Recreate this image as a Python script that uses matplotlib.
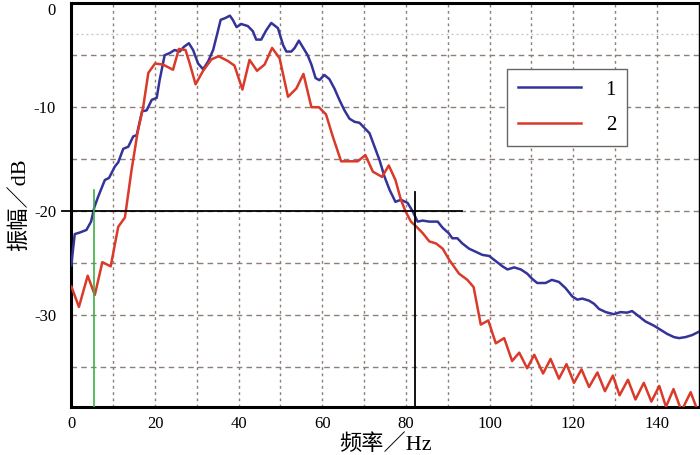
import matplotlib
matplotlib.use('Agg')
import matplotlib.pyplot as plt

plt.rcParams['font.family'] = ['Liberation Serif', 'Noto Sans CJK SC']

# curve 1 (blue): frequency (Hz) / amplitude (dB)
freq_1 = [0.0, 0.3, 0.8, 2.0, 3.6, 4.7, 5.5, 6.4, 8.0, 9.0, 10.4, 11.2, 12.4, 13.6, 14.8, 15.6,
          16.9, 18.0, 19.2, 20.4, 21.1, 22.3, 23.5, 24.7, 25.9, 26.9, 28.1, 29.1, 30.3, 31.5,
          32.7, 33.9, 34.9, 35.7, 36.7, 37.9, 38.6, 39.5, 40.6, 42.2, 43.4, 44.2, 45.4, 46.6,
          47.8, 49.4, 50.6, 51.4, 52.6, 53.4, 54.4, 55.3, 56.5, 57.4, 58.4, 59.3, 60.5, 61.7,
          62.9, 64.1, 65.3, 66.5, 67.7, 68.9, 70.1, 71.3, 72.5, 73.7, 74.9, 76.1, 77.5, 78.8,
          80.4, 81.6, 82.8, 84.0, 85.6, 87.6, 88.8, 90.2, 91.1, 92.3, 93.5, 95.1, 96.7, 98.3,
          99.9, 101.5, 103.1, 104.3, 105.9, 107.5, 109.0, 110.2, 111.4, 113.4, 114.9, 116.6,
          118.2, 119.8, 121.0, 122.2, 123.8, 125.0, 126.2, 127.8, 129.7, 131.3, 132.9, 134.1,
          135.7, 137.3, 139.3, 140.9, 142.5, 144.1, 145.3, 146.9, 148.5, 150.0]
amp_1 = [-25.2, -24.0, -22.2, -22.05, -21.8, -21.0, -19.6, -18.6, -17.0, -16.8, -15.7, -15.3,
         -14.0, -13.8, -12.8, -12.7, -10.4, -10.3, -9.3, -9.1, -7.4, -5.0, -4.8, -4.5, -4.65,
         -4.2, -3.85, -4.5, -5.8, -6.35, -5.6, -4.5, -2.9, -1.6, -1.45, -1.2, -1.6, -2.3, -2.0,
         -2.2, -2.7, -3.5, -3.5, -2.6, -1.9, -2.4, -4.0, -4.65, -4.65, -4.3, -3.6, -4.2, -5.0,
         -5.9, -7.2, -7.4, -6.9, -7.3, -8.2, -9.3, -10.3, -11.1, -11.4, -11.5, -12.0, -12.5,
         -13.8, -15.1, -16.7, -17.95, -19.1, -18.9, -19.2, -20.0, -21.0, -20.9, -21.0, -21.0,
         -21.6, -22.1, -22.6, -22.6, -23.1, -23.6, -23.9, -24.2, -24.3, -24.8, -25.3, -25.6,
         -25.4, -25.6, -26.0, -26.5, -26.9, -26.9, -26.6, -26.8, -27.4, -28.2, -28.5, -28.4,
         -28.6, -28.9, -29.4, -29.7, -29.9, -29.7, -29.75, -29.6, -30.1, -30.6, -31.0, -31.4,
         -31.8, -32.1, -32.2, -32.1, -31.9, -31.6]

# curve 2 (red)
freq_2 = [0.0, 1.8, 3.9, 5.6, 7.4, 9.4, 11.2, 12.8, 14.4, 15.8, 17.2, 18.4, 20.0, 21.9, 24.3,
          25.7, 27.3, 28.3, 29.7, 31.5, 33.5, 35.2, 37.4, 39.0, 40.9, 42.6, 44.4, 46.2, 48.0,
          49.8, 51.8, 53.8, 55.5, 57.4, 59.2, 60.9, 62.5, 64.5, 66.1, 68.5, 70.3, 72.1, 74.3,
          75.9, 77.5, 78.8, 79.9, 81.2, 82.8, 84.0, 85.6, 87.2, 88.8, 90.4, 92.7, 94.7, 96.2,
          97.9, 99.7, 101.5, 103.5, 105.4, 107.1, 109.0, 110.7, 112.8, 114.6, 116.6, 118.4,
          120.2, 122.0, 123.8, 125.8, 127.6, 129.5, 131.1, 133.1, 134.9, 136.9, 138.7, 140.6,
          142.2, 144.0, 145.9, 148.1, 149.6]
amp_2 = [-27.25, -29.2, -26.2, -28.05, -24.9, -25.3, -21.5, -20.6, -16.0, -12.5, -9.9, -6.7,
         -5.8, -5.9, -6.4, -4.4, -4.5, -5.8, -7.8, -6.5, -5.4, -5.1, -5.55, -6.0, -8.3, -5.45,
         -6.5, -5.9, -4.3, -5.3, -9.0, -8.2, -6.8, -10.0, -10.0, -10.7, -12.8, -15.2, -15.2,
         -15.2, -14.6, -16.2, -16.7, -15.6, -17.0, -18.9, -20.0, -21.0, -21.6, -22.1, -22.9,
         -23.1, -23.6, -24.7, -26.0, -26.6, -27.3, -30.9, -30.5, -32.7, -32.2, -34.4, -33.6,
         -35.1, -33.8, -35.6, -34.2, -36.1, -34.7, -36.5, -35.2, -36.9, -35.5, -37.3, -35.8,
         -37.7, -36.2, -38.1, -36.5, -38.3, -36.8, -38.8, -37.1, -39.2, -37.4, -39.0]

series_labels = ['1', '2']
x_ticks = [0, 20, 40, 60, 80, 100, 120, 140]
y_ticks = [0, -10, -20, -30]
y_tick_labels = ['0', '-10', '-20', '-30']

# -20 dB reference and the two marked frequencies
ref_level = -20
ref_end = 93.4
f_low, f_low_top = 5.3, -18.0
f_high, f_high_top = 82.2, -18.2

fig = plt.figure(figsize=(7, 4.55), dpi=100)
ax = fig.add_axes([0.102, 0.106, 0.896, 0.887])

ax.set_xlim(0, 150)
ax.set_ylim(-38.8, 0)

# grid: dotted verticals every 10 Hz, dashed horizontals every 5 dB
grid_col = '#8c7f78'
for gx in range(10, 150, 10):
    ax.axvline(gx, color=grid_col, lw=1.0, ls=(0, (2, 2.5)), zorder=1)
for gy in [-5, -10, -15, -20, -25, -30, -35]:
    ax.axhline(gy, color=grid_col, lw=1.0, ls=(0, (4, 3)), zorder=1)
ax.axhline(-3, color='#c8bfbb', lw=0.9, ls=(0, (1.5, 2.5)), zorder=1)

ax.plot(freq_1, amp_1, color='#33339a', lw=1.8, label=series_labels[0], zorder=3)
ax.plot(freq_2, amp_2, color='#d93a2a', lw=1.8, label=series_labels[1], zorder=3)

ax.plot([-2.2, ref_end], [ref_level, ref_level], color='black', lw=1.3, clip_on=False, zorder=4)
ax.plot([f_low, f_low], [-38.8, f_low_top], color='#3cb043', lw=1.2, zorder=4)
ax.plot([f_high, f_high], [-38.8, f_high_top], color='black', lw=1.3, zorder=4)

ax.set_xticks(x_ticks)
ax.set_yticks(y_ticks)
ax.set_yticklabels(y_tick_labels)
ax.tick_params(axis='both', length=0, labelsize=12)
ax.tick_params(axis='y', pad=11)
ax.tick_params(axis='x', pad=7)
# the "0" label sits just below the top edge, as in the original
ax.get_yticklabels()[0].set_verticalalignment('top')

for side in ['left', 'bottom', 'top']:
    ax.spines[side].set_linewidth(2.2)
ax.spines['right'].set_linewidth(1.0)

ax.set_xlabel('频率／Hz', fontsize=16, labelpad=1)
ax.set_ylabel('振幅／dB', fontsize=16, labelpad=3)

leg = ax.legend(loc='upper left', bbox_to_anchor=(0.694, 0.838), fontsize=15,
                frameon=True, fancybox=False, handlelength=3.0, handletextpad=1.2,
                labelspacing=0.75, borderpad=0.55, borderaxespad=0)
leg.get_frame().set_edgecolor('#666666')
leg.get_frame().set_linewidth(1.0)
leg.get_frame().set_alpha(1.0)

fig.savefig('out.png', dpi=100)
